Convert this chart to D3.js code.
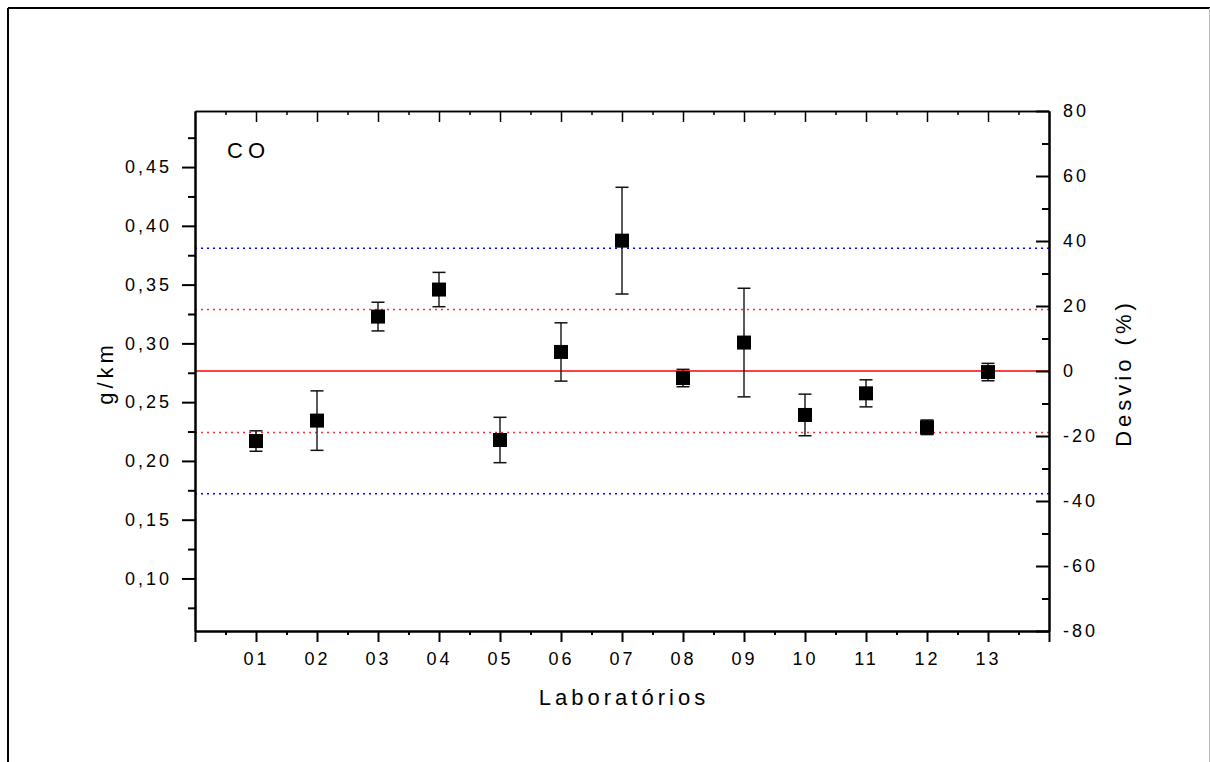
<!DOCTYPE html>
<html>
<head>
<meta charset="utf-8">
<script src="https://cdn.jsdelivr.net/npm/d3@7"></script>
<style>
    body { margin: 0; background: white; }
    text { font-family: "Liberation Sans", Arial, sans-serif; fill: black; }
</style>
</head>
<body>
<div id="chart"></div>
<script>

// Data
var labs = ["01", "02", "03", "04", "05", "06", "07", "08", "09", "10", "11", "12", "13"];
var means = [0.2169, 0.2343, 0.3228, 0.3458, 0.2178, 0.2927, 0.3874, 0.2705, 0.3007, 0.2391, 0.2575, 0.2286, 0.2756];
var errs = [0.0087, 0.0253, 0.0122, 0.0146, 0.0193, 0.0248, 0.0454, 0.0074, 0.0462, 0.0177, 0.0115, 0.0062, 0.0074];
var refValue = 0.2765;
var innerLimit = [-18.9, 18.9];
var outerLimit = [-37.8, 37.8];
var leftTicks = [0.10, 0.15, 0.20, 0.25, 0.30, 0.35, 0.40, 0.45];
var rightTicks = [-80, -60, -40, -20, 0, 20, 40, 60, 80];

// Chart object
ScatterChart = function(_parentElement){
    this.parentElement = _parentElement;
    this.initVis();
}

ScatterChart.prototype.initVis = function() {

    var vis = this;

    vis.margin = {top: 111, right: 161, bottom: 131, left: 195};
    vis.width = 1210 - vis.margin.left - vis.margin.right;
    vis.height = 762 - vis.margin.top - vis.margin.bottom;

    vis.root = d3.select(vis.parentElement).append("svg")
        .attr("width", 1210)
        .attr("height", 762);

    // Outer frame
    vis.root.append("line").attr("x1", 8).attr("x2", 1210).attr("y1", 8).attr("y2", 8)
        .style("stroke", "black").style("stroke-width", 2);
    vis.root.append("line").attr("x1", 8).attr("x2", 8).attr("y1", 8).attr("y2", 762)
        .style("stroke", "black").style("stroke-width", 2);
    vis.root.append("line").attr("x1", 1209.5).attr("x2", 1209.5).attr("y1", 8).attr("y2", 762)
        .style("stroke", "#bbb").style("stroke-width", 1);

    vis.svg = vis.root.append("g")
        .attr("transform", "translate(" + vis.margin.left + "," + vis.margin.top + ")");

    // Scales
    vis.x = d3.scaleLinear().domain([0, 14]).range([0, vis.width]);
    vis.yL = d3.scaleLinear().domain([refValue * 0.2, refValue * 1.8]).range([vis.height, 0]);
    vis.yR = d3.scaleLinear().domain([-80, 80]).range([vis.height, 0]);

    var fmt = function(d) { return d3.format(".2f")(d).replace(".", ","); };

    // Reference lines
    vis.refLine(outerLimit, "blue", "2,4");
    vis.refLine(innerLimit, "#ff3030", "2,4");
    vis.refLine([0], "red", null);

    // Axes
    var bottomMinor = d3.range(0.5, 14, 1);
    var axisStyle = function(g, w) {
        g.select(".domain").style("stroke-width", w);
        g.selectAll(".tick line").style("stroke-width", w);
        g.selectAll("text").style("font-size", "18px").style("letter-spacing", "3px")
            .style("font-family", "'Liberation Sans', Arial, sans-serif");
    };

    vis.svg.append("g")
        .call(d3.axisLeft(vis.yL).tickValues(d3.range(0.075, 0.5, 0.05)).tickSize(7).tickSizeOuter(0).tickFormat(""))
        .call(axisStyle, 2);
    vis.svg.append("g")
        .call(d3.axisLeft(vis.yL).tickValues(leftTicks).tickSize(13).tickSizeOuter(0).tickPadding(10).tickFormat(fmt))
        .call(axisStyle, 2);

    vis.svg.append("g")
        .attr("transform", "translate(" + vis.width + ",0)")
        .call(d3.axisRight(vis.yR).tickValues(d3.range(-70, 80, 20)).tickSizeInner(-7).tickSizeOuter(0).tickFormat(""))
        .call(axisStyle, 2);
    vis.svg.append("g")
        .attr("transform", "translate(" + vis.width + ",0)")
        .call(d3.axisRight(vis.yR).tickValues(rightTicks).tickSizeInner(-13).tickSizeOuter(0).tickPadding(14)
            .tickFormat(function(d) { return String(d); }))
        .call(axisStyle, 2);

    vis.svg.append("g")
        .attr("transform", "translate(0," + vis.height + ")")
        .call(d3.axisBottom(vis.x).tickValues(bottomMinor).tickSize(4).tickSizeOuter(0).tickFormat(""))
        .call(axisStyle, 2);
    vis.svg.append("g")
        .attr("transform", "translate(0," + vis.height + ")")
        .call(d3.axisBottom(vis.x).tickValues(d3.range(0, 15)).tickSize(11).tickSizeOuter(0).tickPadding(10)
            .tickFormat(function(d) { return (d >= 1 && d <= labs.length) ? labs[d - 1] : ""; }))
        .call(axisStyle, 2);

    vis.svg.append("g")
        .call(d3.axisTop(vis.x).tickValues(bottomMinor).tickSizeInner(-4).tickSizeOuter(0).tickFormat(""))
        .call(axisStyle, 1.5);
    vis.svg.append("g")
        .call(d3.axisTop(vis.x).tickValues(d3.range(1, 14)).tickSizeInner(-11).tickSizeOuter(0).tickFormat(""))
        .call(axisStyle, 1.5);

    // Error bars and squares
    var pts = vis.svg.append("g").selectAll("g")
        .data(means)
        .enter().append("g");

    pts.append("line")
        .attr("x1", function(d, i) { return vis.x(i + 1); })
        .attr("x2", function(d, i) { return vis.x(i + 1); })
        .attr("y1", function(d, i) { return vis.yL(d + errs[i]); })
        .attr("y2", function(d, i) { return vis.yL(d - errs[i]); })
        .style("stroke", "#222").style("stroke-width", 1.5);

    [1, -1].forEach(function(s) {
        pts.append("line")
            .attr("x1", function(d, i) { return vis.x(i + 1) - 6.5; })
            .attr("x2", function(d, i) { return vis.x(i + 1) + 6.5; })
            .attr("y1", function(d, i) { return vis.yL(d + s * errs[i]); })
            .attr("y2", function(d, i) { return vis.yL(d + s * errs[i]); })
            .style("stroke", "#111").style("stroke-width", 1.5);
    });

    pts.append("rect")
        .attr("x", function(d, i) { return vis.x(i + 1) - 7; })
        .attr("y", function(d) { return vis.yL(d) - 7; })
        .attr("width", 14)
        .attr("height", 14)
        .style("fill", "black");

    // Texts
    vis.svg.append("text")
        .attr("x", 32)
        .attr("y", 47)
        .text("CO")
        .style("font-size", "22px")
        .style("letter-spacing", "5px");

    vis.svg.append("text")
        .attr("transform", "translate(-82," + (vis.height / 2 + 2) + ") rotate(-90)")
        .attr("text-anchor", "middle")
        .text("g/km")
        .style("font-size", "22px")
        .style("letter-spacing", "4px");

    vis.svg.append("text")
        .attr("x", vis.width / 2 + 2)
        .attr("y", vis.height + 74)
        .attr("text-anchor", "middle")
        .text("Laboratórios")
        .style("font-size", "22px")
        .style("letter-spacing", "4px");

    vis.svg.append("text")
        .attr("transform", "translate(" + (vis.width + 82) + "," + (vis.height / 2 + 2) + ") rotate(-90)")
        .attr("text-anchor", "middle")
        .text("Desvio (%)")
        .style("font-size", "22px")
        .style("letter-spacing", "4px");
};

ScatterChart.prototype.refLine = function(vals, color, dash) {

    var vis = this;

    vis.svg.append("g").selectAll("line")
        .data(vals)
        .enter().append("line")
        .attr("x1", 0)
        .attr("x2", vis.width)
        .attr("y1", function(d) { return vis.yR(d); })
        .attr("y2", function(d) { return vis.yR(d); })
        .style("stroke", color)
        .style("stroke-width", 1.5)
        .style("stroke-dasharray", dash);
};

var chart = new ScatterChart("#chart");

</script>
</body>
</html>
